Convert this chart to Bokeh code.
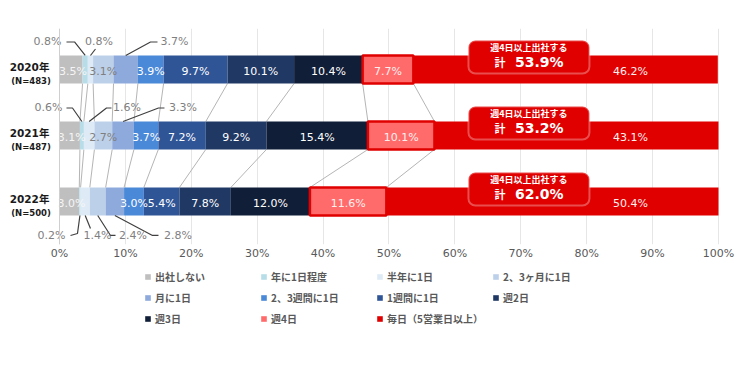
from bokeh.plotting import figure
from bokeh.layouts import column
from bokeh.models import (Range1d, FixedTicker, PrintfTickFormatter, Legend, LegendItem,
                          BoxAnnotation, Span, Label, ColumnDataSource)
from bokeh.core.properties import value
from bokeh.embed import file_html
from bokeh.resources import INLINE

# ---------------- data ----------------
years = ["2020年", "2021年", "2022年"]
sample_sizes = ["(N=483)", "(N=487)", "(N=500)"]
categories = ["出社しない", "年に1日程度", "半年に1日", "2、3ヶ月に1日", "月に1日",
              "2、3週間に1日", "1週間に1日", "週2日", "週3日", "週4日", "毎日（5営業日以上）"]
v2020 = [3.5, 0.8, 0.8, 3.1, 3.7, 3.9, 9.7, 10.1, 10.4, 7.7, 46.2]
v2021 = [3.1, 0.6, 1.6, 2.7, 3.3, 3.7, 7.2, 9.2, 15.4, 10.1, 43.1]
v2022 = [3.0, 0.2, 1.4, 2.4, 2.8, 3.0, 5.4, 7.8, 12.0, 11.6, 50.4]
box_title = "週4日以上出社する"
box_prefix = "計"
x_ticks = [0, 10, 20, 30, 40, 50, 60, 70, 80, 90, 100]

values = [v2020, v2021, v2022]

# ---------------- styles / layout ----------------
colors = ["#BFBFBF", "#B7DDE8", "#DEEBF7", "#BDD0E9", "#8EA9DB", "#4A88D8",
          "#2F5597", "#1F3864", "#111E38", "#FF6B6B", "#E00000"]
label_colors = ["#F5F5F5", "#FFFFFF", "#FFFFFF", "#7F7F7F", "#FFFFFF", "#FFFFFF",
                "#FFFFFF", "#FFFFFF", "#FFFFFF", "#FFF0F0", "#FFF0F0"]
label_nudge = [2, 0, 0, 0, 0, 0, 0, 0, 0, 0, 0]   # px, keeps first label inside its bar
CJK = "Noto Sans CJK JP"
LAT = "DejaVu Sans"
MIX = "DejaVu Sans, Noto Sans CJK JP"

ypos = [2, 1, 0]
BAR_H = 0.424
PX = 1 / 66.0          # data units per pixel (vertical)
DAILY_LABEL_X = 86.65
BOX_L, BOX_R = 62.06, 80.42
BOX_CX = (BOX_L + BOX_R) / 2

# outside labels: (year idx, category idx, label x %, leader points [(x %, dy px)])
outside = [
    (0, 1, -1.82, [(2.28, 0), (1.06, 0)]),
    (0, 2, 5.99, [(5.46, 7)]),
    (0, 4, 17.45, [(13.81, 0), (14.87, 0)]),
    (1, 1, -1.67, [(1.97, 0), (1.06, 0)]),
    (1, 2, 10.24, [(7.13, 0), (7.89, 0)]),
    (1, 4, 18.74, [(15.02, 0), (15.93, 0)]),
    (2, 1, -1.21, [(2.73, -2), (1.67, 0)]),
    (2, 2, 5.77, [(4.70, -7)]),
    (2, 3, 11.15, [(7.74, 0), (8.50, 0)]),
    (2, 4, 17.98, [(14.11, 0), (15.02, 0)]),
]
outside_keys = {(o[0], o[1]) for o in outside}

# cumulative positions
starts, ends = [], []
for vals in values:
    s, e, acc = [], [], 0.0
    for v in vals:
        s.append(acc)
        acc += v
        e.append(acc)
    starts.append(s)
    ends.append(e)

p = figure(width=739, height=264, output_backend="svg", toolbar_location=None,
           x_range=Range1d(-8.953, 103.19), y_range=Range1d(-0.652, 2.621),
           min_border_left=0, min_border_right=0, min_border_top=28, min_border_bottom=20)
p.outline_line_color = None
p.background_fill_color = "white"
p.yaxis.visible = False
p.ygrid.grid_line_color = None
p.xgrid.ticker = FixedTicker(ticks=x_ticks)
p.xgrid.grid_line_color = "#E6E6E6"
p.xaxis.ticker = FixedTicker(ticks=x_ticks)
p.xaxis.formatter = PrintfTickFormatter(format="%d%%")
p.xaxis.axis_line_color = None
p.xaxis.major_tick_line_color = None
p.xaxis.minor_tick_line_color = None
p.xaxis.major_tick_out = 0
p.xaxis.major_tick_in = 0
p.xaxis.major_label_standoff = 2
p.xaxis.major_label_text_color = "#595959"
p.xaxis.major_label_text_font = LAT
p.xaxis.major_label_text_font_size = "11px"

p.add_layout(Span(location=0, dimension="height", line_color="#CFCFCF", line_width=1))

# connector (series) lines between bars
cx0, cy0, cx1, cy1 = [], [], [], []
for i in range(len(values) - 1):
    for k in range(len(categories) - 1):
        cx0.append(ends[i][k]); cy0.append(ypos[i] - BAR_H / 2)
        cx1.append(ends[i + 1][k]); cy1.append(ypos[i + 1] + BAR_H / 2)
p.segment(x0=cx0, y0=cy0, x1=cx1, y1=cy1, line_color="#B5B5B5", line_width=1)

# bars
sources = []
for k, cat in enumerate(categories):
    src = ColumnDataSource(dict(y=ypos, left=[starts[i][k] for i in range(3)],
                                right=[ends[i][k] for i in range(3)]))
    sources.append(src)
    p.hbar(y="y", left="left", right="right", height=BAR_H, source=src,
           fill_color=colors[k], line_color=None)

# red outline on 週4日 segments
k4 = 9
p.hbar(y=ypos, left=[starts[i][k4] for i in range(3)], right=[ends[i][k4] for i in range(3)],
       height=BAR_H, fill_color=None, line_color="#E00000", line_width=2.5)

# inside labels
lx, ly, lt, lc, lo = [], [], [], [], []
for i in range(3):
    for k in range(len(categories)):
        if (i, k) in outside_keys:
            continue
        x = (starts[i][k] + ends[i][k]) / 2 if k != 10 else DAILY_LABEL_X
        lx.append(x); ly.append(ypos[i] - 2 * PX); lt.append(f"{values[i][k]:.1f}%")
        lc.append(label_colors[k]); lo.append(label_nudge[k])
p.text(x=lx, y=ly, text=lt, text_color=lc, x_offset=lo, text_align="center",
       text_baseline="middle", text_font=value(LAT), text_font_size="11px")

# outside labels with leader lines
ox, oy, ot, lxs, lys = [], [], [], [], []
for i, k, xlab, pts in outside:
    mid = (starts[i][k] + ends[i][k]) / 2
    if i == 2:
        edge = ypos[i] - BAR_H / 2
        ylab = edge - 20 * PX
    else:
        edge = ypos[i] + BAR_H / 2
        ylab = edge + 13.5 * PX
    ox.append(xlab); oy.append(ylab); ot.append(f"{values[i][k]:.1f}%")
    xs = [mid] + [pt[0] for pt in pts]
    ys = [edge] + [ylab - pt[1] * PX for pt in pts]
    lxs.append(xs); lys.append(ys)
p.multi_line(xs=lxs, ys=lys, line_color="#404040", line_width=1.2)
p.text(x=ox, y=oy, text=ot, text_color="#7F7F7F", text_align="center",
       text_baseline="middle", text_font=value(LAT), text_font_size="11px")

# year labels
p.text(x=[-4.55] * 3, y=[y + 2 * PX for y in ypos], text=years, text_align="center",
       text_baseline="middle", text_font=value(MIX), text_font_size="10.5px",
       text_font_style="bold", text_color="#1A1A1A")
p.text(x=[-4.32] * 3, y=[y - 12 * PX for y in ypos], text=sample_sizes, text_align="center",
       text_baseline="middle", text_font=value(LAT), text_font_size="8.5px",
       text_font_style="bold", text_color="#1A1A1A")

# callout boxes
for i in range(3):
    y = ypos[i]
    total = values[i][9] + values[i][10]
    p.add_layout(BoxAnnotation(left=BOX_L, right=BOX_R, bottom=y - 4 * PX, top=y + 29 * PX,
                               fill_color="#E00000", fill_alpha=1.0, line_color="white",
                               line_width=2, border_radius=7))
    p.add_layout(Label(x=BOX_CX, y=y + 22 * PX, text=box_title, text_align="center",
                       text_baseline="middle", text_color="white", text_font=CJK,
                       text_font_size="9px", text_font_style="bold"))
    p.add_layout(Label(x=BOX_CX, y=y + 7 * PX, x_offset=-29, text=box_prefix,
                       text_align="center", text_baseline="middle", text_color="white",
                       text_font=CJK, text_font_size="11px", text_font_style="bold"))
    p.add_layout(Label(x=BOX_CX, y=y + 7 * PX, x_offset=-14, text=f"{total:.1f}%",
                       text_align="left", text_baseline="middle", text_color="white",
                       text_font=LAT, text_font_size="14px", text_font_style="bold"))

# ---------------- legend (separate strip below the chart) ----------------
# the strip reuses the bar sources; its y-range keeps those bars out of view
pl = figure(width=739, height=107, output_backend="svg", toolbar_location=None,
            x_range=Range1d(0, 100), y_range=Range1d(10, 11),
            x_axis_location=None, y_axis_location=None,
            min_border_left=0, min_border_top=0, min_border_right=0, min_border_bottom=0)
pl.outline_line_color = None
pl.grid.visible = False
items = []
for k, cat in enumerate(categories):
    r = pl.hbar(y="y", left="left", right="right", height=BAR_H, source=sources[k],
                fill_color=colors[k], line_color=None)
    items.append(LegendItem(label=cat, renderers=[r]))
legend = Legend(items=items, orientation="horizontal", ncols=4, location=(144, 45),
                glyph_width=7, glyph_height=7, label_width=99, label_height=15,
                label_standoff=4, spacing=6, padding=0, margin=0,
                border_line_color=None, background_fill_alpha=0,
                label_text_font=CJK, label_text_font_size="10px",
                label_text_font_style="bold", label_text_color="#595959")
pl.add_layout(legend)

layout = column(p, pl, spacing=0)
open("out.html", "w").write(file_html(layout, INLINE))
